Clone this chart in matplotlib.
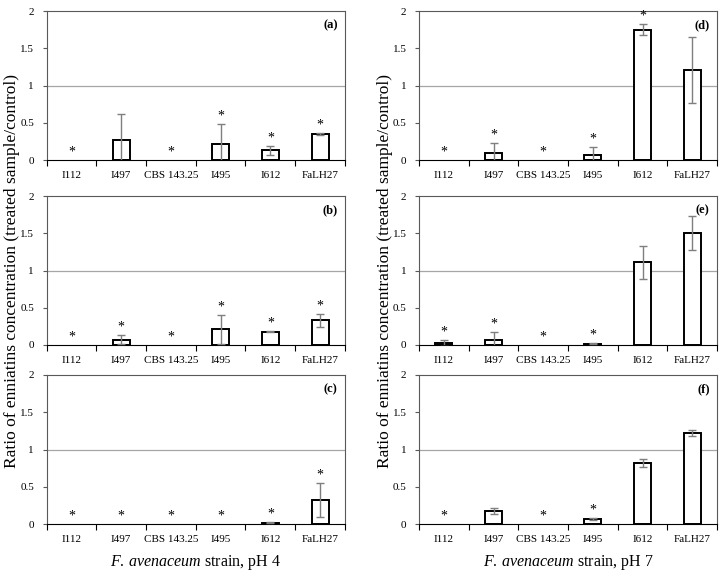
import matplotlib
matplotlib.use("Agg")
import matplotlib.pyplot as plt
import numpy as np

plt.rcParams['font.family'] = ['Liberation Serif', 'DejaVu Serif']
plt.rcParams['mathtext.fontset'] = 'custom'
plt.rcParams['mathtext.rm'] = 'Liberation Serif'
plt.rcParams['mathtext.it'] = 'Liberation Serif:italic'

categories = ["I112", "I497", "CBS 143.25", "I495", "I612", "FaLH27"]
panel_labels = ["(a)", "(b)", "(c)", "(d)", "(e)", "(f)"]

# values, errors, significance (asterisk) per panel
vals_a = [0.0, 0.27, 0.0, 0.21, 0.13, 0.35]
errs_a = [0.0, 0.35, 0.0, 0.27, 0.06, 0.01]
sig_a = [1, 0, 1, 1, 1, 1]

vals_b = [0.0, 0.07, 0.0, 0.21, 0.18, 0.33]
errs_b = [0.0, 0.06, 0.0, 0.19, 0.005, 0.09]
sig_b = [1, 1, 1, 1, 1, 1]

vals_c = [0.0, 0.0, 0.0, 0.0, 0.02, 0.32]
errs_c = [0.0, 0.0, 0.0, 0.0, 0.01, 0.23]
sig_c = [1, 1, 1, 1, 1, 1]

vals_d = [0.0, 0.09, 0.0, 0.07, 1.75, 1.21]
errs_d = [0.0, 0.14, 0.0, 0.10, 0.07, 0.44]
sig_d = [1, 1, 1, 1, 1, 0]

vals_e = [0.03, 0.07, 0.0, 0.02, 1.11, 1.50]
errs_e = [0.04, 0.11, 0.0, 0.01, 0.22, 0.23]
sig_e = [1, 1, 1, 1, 0, 0]

vals_f = [0.0, 0.17, 0.0, 0.07, 0.82, 1.22]
errs_f = [0.0, 0.04, 0.0, 0.01, 0.05, 0.04]
sig_f = [1, 0, 1, 1, 0, 0]

panels = [(vals_a, errs_a, sig_a), (vals_b, errs_b, sig_b), (vals_c, errs_c, sig_c),
          (vals_d, errs_d, sig_d), (vals_e, errs_e, sig_e), (vals_f, errs_f, sig_f)]

yticks = [0, 0.5, 1, 1.5, 2]
ytick_labels = ["0", "0.5", "1", "1.5", "2"]

fig = plt.figure(figsize=(7.25, 5.72), dpi=100)
W, H = 725, 572
col_x = [46.5, 419]
col_w = [298.5, 298]
row_top = [11, 196, 375]
row_h = 149

spine_col = '#595959'
x = np.arange(len(categories))

for i, (vals, errs, sig) in enumerate(panels):
    col = i // 3
    row = i % 3
    left = col_x[col] / W
    bottom = 1 - (row_top[row] + row_h) / H
    ax = fig.add_axes([left, bottom, col_w[col] / W, row_h / H])
    ax.axhline(1, color='#a6a6a6', lw=0.9, zorder=0)
    v_arr = np.array(vals)
    e_arr = np.array(errs)
    nz = v_arr > 0
    ax.bar(x[nz], v_arr[nz], width=0.34, color='white', edgecolor='black',
           linewidth=1.4, zorder=2)
    ax.errorbar(x[nz], v_arr[nz], yerr=e_arr[nz], fmt='none', ecolor='#7f7f7f',
                elinewidth=1.0, capsize=3, capthick=1.0, zorder=3)
    for xi, v, e, s in zip(x, vals, errs, sig):
        if s:
            top = v + e
            ax.text(xi, top + 0.02, '*', ha='center', va='bottom', fontsize=10, zorder=4)
    ax.set_xlim(-0.5, len(categories) - 0.5)
    ax.set_ylim(0, 2)
    ax.set_yticks(yticks)
    ax.set_yticklabels(ytick_labels, fontsize=8)
    ax.set_xticks(x)
    ax.set_xticklabels(categories, fontsize=8)
    ax.set_xticks(np.arange(-0.5, len(categories)), minor=True)
    ax.tick_params(axis='x', which='major', length=0, pad=8)
    ax.tick_params(axis='x', which='minor', length=4, direction='out', width=0.8, color='black')
    ax.tick_params(axis='y', length=3, width=0.8, color=spine_col, pad=6)
    for sp in ['left', 'top', 'right']:
        ax.spines[sp].set_color(spine_col)
        ax.spines[sp].set_linewidth(0.8)
    ax.spines['bottom'].set_color('black')
    ax.spines['bottom'].set_linewidth(0.8)
    ax.text(0.975, 0.905, panel_labels[i], transform=ax.transAxes, ha='right', va='center',
            fontsize=9, fontweight='bold')

ylabel = "Ratio of enniatins concentration (treated sample/control)"
fig.text(12 / W, 1 - 271 / H, ylabel, rotation=90, ha='center', va='center', fontsize=12.5)
fig.text(385 / W, 1 - 271 / H, ylabel, rotation=90, ha='center', va='center', fontsize=12.5)

fig.text((46.5 + 298.5 / 2) / W, 1 - 562 / H, r"$\it{F.\,avenaceum}$ strain, pH 4",
         ha='center', va='center', fontsize=11.5)
fig.text((419 + 298 / 2) / W, 1 - 562 / H, r"$\it{F.\,avenaceum}$ strain, pH 7",
         ha='center', va='center', fontsize=11.5)

fig.savefig("out.png", dpi=100)
